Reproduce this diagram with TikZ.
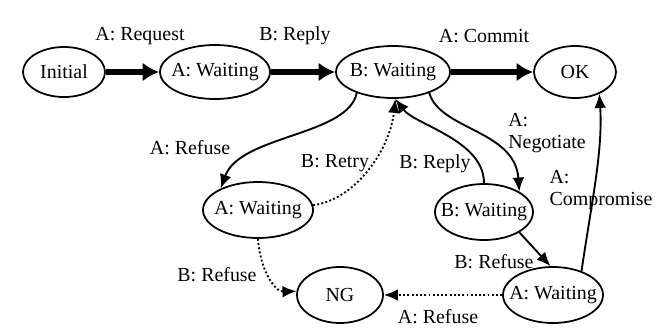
\documentclass[tikz,border=0pt]{standalone}
\usepackage{fontspec}
\setmainfont{Liberation Serif}
\usetikzlibrary{shapes.geometric}
\usetikzlibrary{arrows.meta}

\begin{document}
\begin{tikzpicture}[
		x=0.03cm, y=-0.03cm,
		state/.style={ellipse,draw,line width=1.5pt,inner sep=0pt},
		strong/.style={line width=5pt,-{Latex[length=14pt,width=16pt]}},
		move/.style={line width=1.6pt,-{Latex[length=12pt,width=10pt]}},
		weak/.style={move,dotted},
		font=\fontsize{17pt}{19.5pt}\selectfont]
	\useasboundingbox (0,0) rectangle (668,333);
	%% define states
	\node (init) at (64,72) [state,minimum width=2.46cm,minimum height=1.5cm,label={center:Initial}] {};
	\node (aw1) at (215,72) [state,minimum width=3.3cm,minimum height=1.62cm,label={center:A: Waiting}] {};
	\node (bw) at (393,72) [state,minimum width=3.42cm,minimum height=1.56cm,label={center:B: Waiting}] {};
	\node (ok) at (575,72) [state,minimum width=2.46cm,minimum height=1.56cm,label={center:OK}] {};
	\node (aw2) at (258,210) [state,minimum width=3.3cm,minimum height=1.68cm,label={center:A: Waiting}] {};
	\node (bw2) at (484,212) [state,minimum width=2.94cm,minimum height=1.68cm,label={center:B: Waiting}] {};
	\node (ng) at (340,295) [state,minimum width=2.58cm,minimum height=1.68cm,label={center:NG}] {};
	\node (aw3) at (553,295) [state,minimum width=3.0cm,minimum height=1.68cm,label={center:A: Waiting}] {};
	%% define transitions
	\draw[strong] (init) -- (aw1);
	\draw[strong] (aw1) -- (bw);
	\draw[strong] (bw) -- (ok);
	\draw[move] (bw.210) .. controls (348,136) and (240,135) .. (aw2.150);
	\draw[weak] (aw2.5) .. controls (355,200) and (390,150) .. (bw.-85);
	\draw[move] (bw2.north) .. controls (484,140) and (415,125) .. (bw.-85);
	\draw[move] (bw.-30) .. controls (440,130) and (515,130) .. (bw2.30);
	\draw[move] (bw2.-30) -- (aw3.95);
	\draw[move] (aw3.40) .. controls (592,200) and (603,150) .. (ok.-42);
	\draw[weak] (aw3) -- (ng);
	\draw[weak] (aw2.south) .. controls (260,270) and (275,292) .. (ng.175);
	%% define labels
	\node (lreq) at (140,36) {A: Request};
	\node (lrep) at (295,36) {B: Reply};
	\node (lcom) at (484,36) {A: Commit};
	\node (lref1) at (190,148) {A: Refuse};
	\node (lret) at (335,163) {B: Retry};
	\node (lrep2) at (435,164) {B: Reply};
	\node (lneg) at (547,133) [align=left] {A:\\Negotiate};
	\node (lcomp) at (601,190) [align=left] {A:\\Compromise};
	\node (lref2) at (494,262) {B: Refuse};
	\node (lref3) at (438,317) {A: Refuse};
	\node (lref4) at (217,275) {B: Refuse};
\end{tikzpicture}
\end{document}
